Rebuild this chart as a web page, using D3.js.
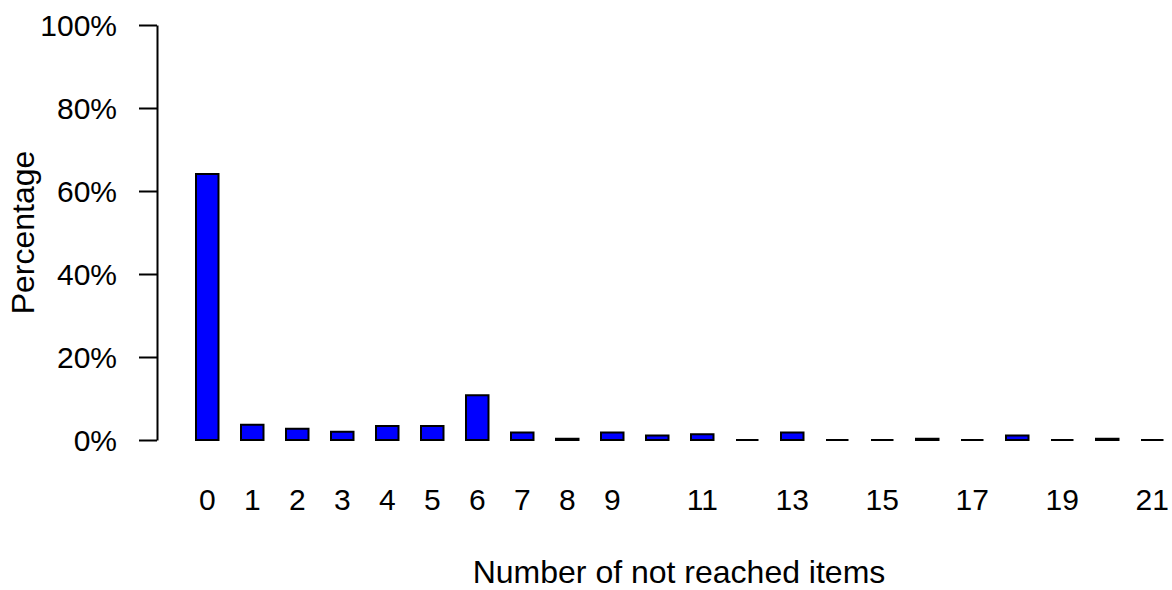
<!DOCTYPE html>
<html>
<head>
<meta charset="utf-8">
<script src="https://cdn.jsdelivr.net/npm/d3@7"></script>
<style>
  html, body { margin: 0; padding: 0; background: #fff; }
  svg { display: block; }
  text { font-family: "Liberation Sans", Arial, sans-serif; fill: #000; }
</style>
</head>
<body>
<svg id="chart" width="1172" height="590"></svg>
<script>
// Number of not reached items (0..21)
const categories = ["0","1","2","3","4","5","6","7","8","9","10","11","12","13","14","15","16","17","18","19","20","21"];
// Share of test takers, in percent
const percentages = [64.1, 3.7, 2.7, 2.0, 3.4, 3.4, 10.8, 1.8, 0.3, 1.8, 1.1, 1.4, 0, 1.8, 0, 0, 0.3, 0, 1.1, 0, 0.3, 0];
// Category labels printed under the bars (others are left out for room)
const xTickLabels = ["0","1","2","3","4","5","6","7","8","9","11","13","15","17","19","21"];
// Y axis tick values
const yTickValues = [0, 0.2, 0.4, 0.6, 0.8, 1.0];

const svg = d3.select("#chart");
const fontSize = 30;
const titleSize = 32;

const x = d3.scaleBand()
  .domain(categories)
  .range([184.75, 184.75 + 45 * categories.length])
  .paddingInner(0.5)
  .paddingOuter(0.25);

const y = d3.scaleLinear().domain([0, 1]).range([440, 25]);

// Bars: drawn as closed paths so zero-height bars still show their outline
svg.append("g")
  .selectAll("path")
  .data(percentages)
  .join("path")
  .attr("d", (d, i) => {
    const x0 = x(categories[i]);
    const w = x.bandwidth();
    const y0 = y(0);
    const y1 = y(d / 100);
    return `M${x0},${y0}H${x0 + w}V${y1}H${x0}Z`;
  })
  .attr("fill", "#0000ff")
  .attr("stroke", "#000")
  .attr("stroke-width", 2)
  .attr("stroke-linejoin", "miter");

// Y axis
const yAxis = svg.append("g")
  .attr("transform", "translate(157,0)")
  .call(d3.axisLeft(y)
    .tickValues(yTickValues)
    .tickFormat(d3.format(".0%"))
    .tickSize(18)
    .tickPadding(22)
    .tickSizeOuter(0));
yAxis.select(".domain").attr("stroke", "#000").attr("stroke-width", 2);
yAxis.selectAll(".tick line").attr("stroke", "#000").attr("stroke-width", 2);
yAxis.selectAll(".tick text")
  .attr("font-size", fontSize)
  .attr("font-family", "'Liberation Sans', Arial, sans-serif")
  .attr("dy", "0.35em");

// X axis labels (no axis line, no ticks)
const xAxis = svg.append("g")
  .attr("transform", "translate(0,440)")
  .call(d3.axisBottom(x)
    .tickValues(xTickLabels)
    .tickSize(0)
    .tickPadding(49));
xAxis.select(".domain").remove();
xAxis.selectAll(".tick text")
  .attr("font-size", fontSize)
  .attr("font-family", "'Liberation Sans', Arial, sans-serif")
  .attr("dy", "0.71em");

// Axis titles
svg.append("text")
  .attr("x", 679)
  .attr("y", 583)
  .attr("text-anchor", "middle")
  .attr("font-size", titleSize)
  .text("Number of not reached items");

svg.append("text")
  .attr("transform", "translate(34,232.5) rotate(-90)")
  .attr("text-anchor", "middle")
  .attr("font-size", titleSize)
  .text("Percentage");
</script>
</body>
</html>
